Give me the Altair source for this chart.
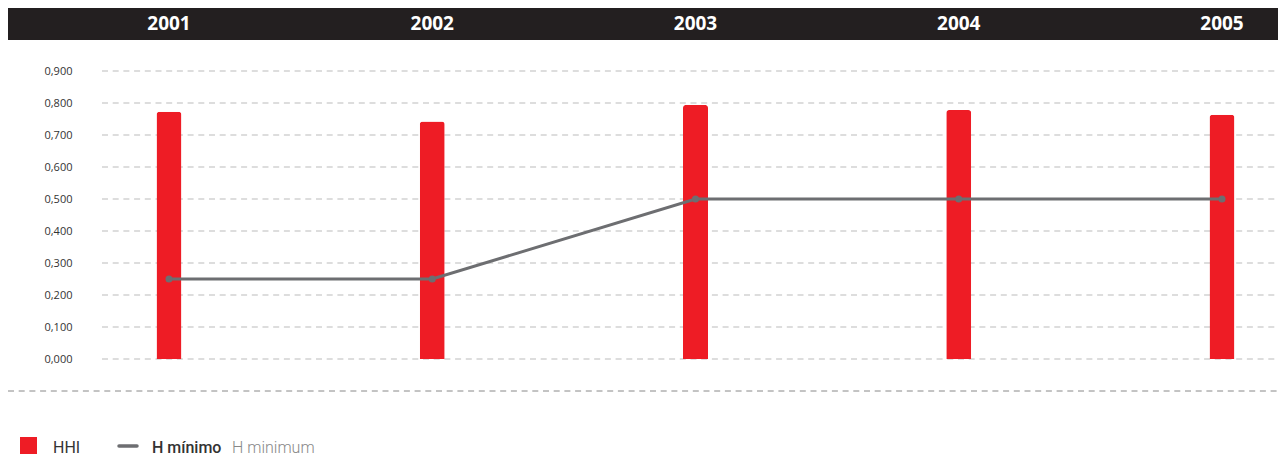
import altair as alt
import pandas as pd

years = ["2001", "2002", "2003", "2004", "2005"]
hhi = [0.773, 0.742, 0.794, 0.778, 0.763]
h_minimo = [0.25, 0.25, 0.5, 0.5, 0.5]
y_ticks = [0, 0.1, 0.2, 0.3, 0.4, 0.5, 0.6, 0.7, 0.8, 0.9]

df = pd.DataFrame({"year": years, "hhi": hhi, "hmin": h_minimo})
grid_df = pd.DataFrame({"tick": y_ticks})

W, H = 1176, 288
RED = "#ee1c25"
GREY = "#6d6e71"

xs = alt.Scale(type="point", domain=years, range=[67, 1120], padding=0)
ys = alt.Scale(domain=[0, 0.9], nice=False, zero=True)

y_axis = alt.Axis(
    values=y_ticks,
    labelExpr="replace(format(datum.value, '.3f'), '.', ',')",
    title=None, domain=False, ticks=False, labelPadding=30,
    labelFont="Open Sans", labelFontSize=11, labelColor="#333333",
    grid=False,
)

x_enc = alt.X("year:O", scale=xs, axis=None)

base = alt.Chart(df)
one = alt.Data(values=[{}])

gridlines = alt.Chart(grid_df).mark_rule(color="#bbbbbb", strokeDash=[6, 4.7], strokeWidth=1).encode(
    y=alt.Y("tick:Q", scale=ys, axis=y_axis), x=alt.value(0), x2=alt.value(W)
)

header_rect = alt.Chart(one).mark_rect(color="#231f20").encode(
    x=alt.value(-94), x2=alt.value(W), y=alt.value(-63), y2=alt.value(-31)
)
header_text = base.mark_text(
    color="white", fontSize=19, fontWeight="bold", font="Open Sans",
    baseline="middle"
).encode(x=x_enc, y=alt.value(-47), text="year:N")

bars = base.mark_bar(width=25, color=RED, cornerRadiusTopLeft=3, cornerRadiusTopRight=3).encode(
    x=x_enc, y=alt.Y("hhi:Q", scale=ys, axis=y_axis),
)

line = base.mark_line(color=GREY, strokeWidth=3).encode(
    x=x_enc, y=alt.Y("hmin:Q", scale=ys, axis=y_axis)
)
pts = base.mark_point(color=GREY, filled=True, size=50, opacity=1).encode(
    x=x_enc, y=alt.Y("hmin:Q", scale=ys, axis=y_axis)
)

bottom_rule = alt.Chart(one).mark_rule(color="#888888", strokeDash=[6, 4.7], strokeWidth=1).encode(
    x=alt.value(-94), x2=alt.value(W), y=alt.value(320)
)

leg_sq = alt.Chart(one).mark_square(color=RED, size=290, opacity=1, filled=True).encode(
    x=alt.value(28.5 - 102), y=alt.value(374.5)
)
leg_hhi = alt.Chart(one).mark_text(text="HHI", font="Roboto", fontSize=16, color="#333333",
                                   align="left", baseline="middle").encode(
    x=alt.value(53 - 102), y=alt.value(377)
)
leg_line = alt.Chart(one).mark_rule(color=GREY, strokeWidth=3.5, strokeCap="round").encode(
    x=alt.value(119 - 102), x2=alt.value(137 - 102), y=alt.value(375)
)
leg_hmin = alt.Chart(one).mark_text(text="H mínimo", font="Roboto", fontSize=16, fontWeight=500,
                                    color="#333333", align="left", baseline="middle").encode(
    x=alt.value(152 - 102), y=alt.value(377)
)
leg_hmin_en = alt.Chart(one).mark_text(text="H minimum", font="Roboto", fontSize=16, fontWeight=300,
                                       color="#888888", align="left", baseline="middle").encode(
    x=alt.value(232 - 102), y=alt.value(377)
)

chart = alt.layer(
    gridlines, header_rect, header_text, bars, line, pts, bottom_rule,
    leg_sq, leg_hhi, leg_line, leg_hmin, leg_hmin_en
).properties(
    width=W, height=H,
    autosize=alt.AutoSizeParams(type="none"),
    padding={"left": 94, "top": 63, "right": 0, "bottom": 100},
).configure_view(stroke=None)

chart.save("out.html", embed_options={"renderer": "svg", "actions": False})
